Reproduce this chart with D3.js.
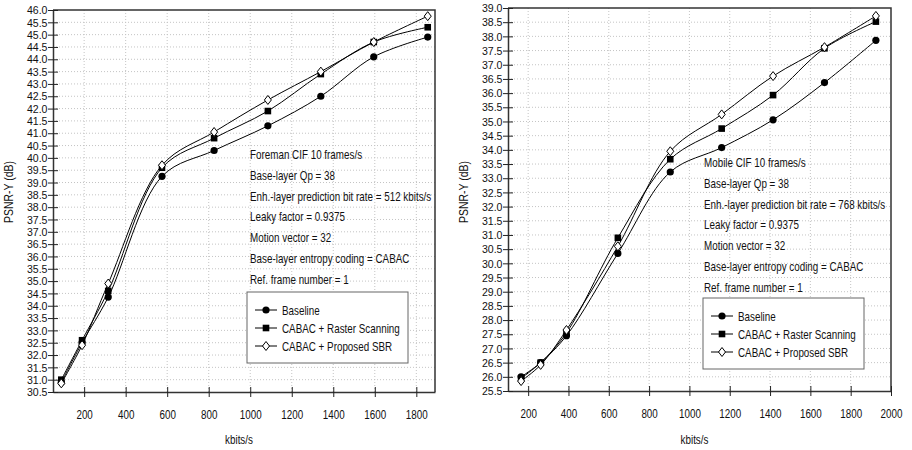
<!DOCTYPE html>
<html>
<head>
<meta charset="utf-8">
<script src="https://cdn.jsdelivr.net/npm/d3@7"></script>
<style>
  body { margin: 0; background: #fff; }
  text { font-family: "Liberation Sans", Arial, sans-serif; fill: #111; }
</style>
</head>
<body>
<div id="viz"></div>
<script>
// ---- data ----
const seriesNames = ["Baseline", "CABAC + Raster Scanning", "CABAC + Proposed SBR"]

// Foreman
const foremanRate = [90, 190, 316, 575, 826, 1085, 1340, 1595, 1855]
const foremanBaseline = [30.9, 32.5, 34.35, 39.25, 40.3, 41.3, 42.5, 44.1, 44.9]
const foremanRaster = [31.0, 32.6, 34.6, 39.6, 40.8, 41.9, 43.4, 44.7, 45.3]
const foremanSBR = [30.85, 32.4, 34.9, 39.7, 41.05, 42.35, 43.5, 44.7, 45.75]
const foremanNotes = ["Foreman CIF 10 frames/s", "Base-layer Qp = 38",
  "Enh.-layer prediction bit rate = 512 kbits/s", "Leaky factor = 0.9375",
  "Motion vector = 32", "Base-layer entropy coding = CABAC", "Ref. frame number = 1"]

// Mobile
const mobileRate = [165, 262, 390, 645, 905, 1160, 1415, 1670, 1925]
const mobileBaseline = [26.0, 26.5, 27.45, 30.35, 33.22, 34.08, 35.06, 36.37, 37.86]
const mobileRaster = [25.95, 26.5, 27.55, 30.9, 33.67, 34.75, 35.93, 37.58, 38.52]
const mobileSBR = [25.85, 26.42, 27.65, 30.6, 33.95, 35.25, 36.6, 37.62, 38.72]
const mobileNotes = ["Mobile CIF 10 frames/s", "Base-layer Qp = 38",
  "Enh.-layer prediction bit rate = 768 kbits/s", "Leaky factor = 0.9375",
  "Motion vector = 32", "Base-layer entropy coding = CABAC", "Ref. frame number = 1"]

const foremanXTicks = [200, 400, 600, 800, 1000, 1200, 1400, 1600, 1800]
const mobileXTicks = [200, 400, 600, 800, 1000, 1200, 1400, 1600, 1800, 2000]

const width = 912
const height = 450
const squeeze = 0.82

const svg = d3.select("#viz").append("svg")
    .attr("width", width)
    .attr("height", height)

function drawMarker(g, kind, x, y) {
    if (kind === 0) {
        g.append("circle").attr("cx", x).attr("cy", y).attr("r", 3.6).attr("fill", "#000")
    } else if (kind === 1) {
        g.append("rect").attr("x", x - 3.3).attr("y", y - 3.3)
            .attr("width", 6.6).attr("height", 6.6).attr("fill", "#000")
    } else {
        g.append("path")
            .attr("d", `M${x},${y - 4.5}L${x + 3.5},${y}L${x},${y + 4.5}L${x - 3.5},${y}Z`)
            .attr("fill", "#fff").attr("stroke", "#000").attr("stroke-width", 1)
    }
}

function squeezedText(g, str, x, y, anchor, size) {
    return g.append("text")
        .attr("transform", `translate(${x},${y}) scale(${squeeze},1)`)
        .attr("text-anchor", anchor || "start")
        .style("font-size", (size || 12) + "px")
        .text(str)
}

function drawPanel(p) {
    const x = d3.scaleLinear().domain(p.xDomain).range([p.left, p.right])
    const y = d3.scaleLinear().domain(p.yDomain).range([p.bottom, p.top])
    const yTicks = d3.range(p.yDomain[0], p.yDomain[1] + 0.01, 0.5)
    const g = svg.append("g")

    // grid
    g.append("g").selectAll("line").data(yTicks.slice(1, -1)).join("line")
        .attr("x1", p.left).attr("x2", p.right)
        .attr("y1", d => y(d)).attr("y2", d => y(d))
        .attr("stroke", "#c4c4c4").attr("stroke-dasharray", "1,2")
    g.append("g").selectAll("line").data(p.xTicks.filter(d => d < p.xDomain[1])).join("line")
        .attr("x1", d => x(d)).attr("x2", d => x(d))
        .attr("y1", p.top).attr("y2", p.bottom)
        .attr("stroke", "#c4c4c4").attr("stroke-dasharray", "1,2")

    // frame
    g.append("path")
        .attr("d", `M${p.left},${p.top}H${p.right}V${p.bottom}`)
        .attr("fill", "none").attr("stroke", "#333").attr("stroke-width", 1.5)

    // axes
    const xAxis = g.append("g")
        .attr("transform", `translate(0,${p.bottom})`)
        .call(d3.axisBottom(x).tickValues(p.xTicks).tickSize(5).tickSizeOuter(0).tickPadding(13)
            .tickFormat(d3.format("d")))
    const yAxis = g.append("g")
        .attr("transform", `translate(${p.left},0)`)
        .call(d3.axisLeft(y).tickValues(yTicks).tickSize(4).tickSizeOuter(0).tickPadding(2)
            .tickFormat(d3.format(".1f")))
    for (const ax of [xAxis, yAxis]) {
        ax.select(".domain").attr("stroke", "#333").attr("stroke-width", 1.5)
        ax.selectAll(".tick line").attr("stroke", "#222")
        ax.selectAll("text").attr("fill", "#111").style("font-family", "Liberation Sans, Arial, sans-serif")
    }
    xAxis.selectAll(".tick line").attr("y1", -5)
    xAxis.selectAll(".tick text").style("font-size", "12px")
        .attr("transform", `scale(${squeeze},1)`)
    yAxis.selectAll(".tick line").attr("x2", 5).attr("x1", -5)
    yAxis.selectAll(".tick text").style("font-size", "11.5px").attr("x", -6)
        .attr("transform", `scale(0.92,1)`)

    // axis titles
    squeezedText(g, "kbits/s", (p.left + p.right) / 2 - 5, 444, "middle")
    g.append("text")
        .attr("transform", `translate(${p.left - 40},${192}) rotate(-90) scale(${squeeze + 0.05},1)`)
        .attr("text-anchor", "middle")
        .style("font-size", "12px")
        .text("PSNR-Y (dB)")

    // curves
    const line = d3.line().x(d => x(d[0])).y(d => y(d[1])).curve(d3.curveCatmullRom.alpha(0.5))
    p.series.forEach((vals, i) => {
        const pts = p.rate.map((r, j) => [r, vals[j]])
        g.append("path").attr("d", line(pts))
            .attr("fill", "none").attr("stroke", "#000").attr("stroke-width", 1)
    })
    // markers drawn in order, SBR on top
    p.series.forEach((vals, i) => {
        p.rate.forEach((r, j) => drawMarker(g, i, x(r), y(vals[j])))
    })

    // notes
    p.notes.forEach((s, i) => {
        squeezedText(g, s, p.noteX, p.noteY + i * 20.8)
    })

    // legend
    const lg = g.append("g")
    lg.append("rect")
        .attr("x", p.legX).attr("y", p.legY).attr("width", 161).attr("height", 71)
        .attr("fill", "#fff").attr("stroke", "#666").attr("stroke-width", 1)
    seriesNames.forEach((name, i) => {
        const ly = p.legY + 18 + i * 18
        lg.append("line")
            .attr("x1", p.legX + 8).attr("x2", p.legX + 30)
            .attr("y1", ly).attr("y2", ly)
            .attr("stroke", "#000").attr("stroke-width", 1)
        drawMarker(lg, i, p.legX + 19, ly)
        squeezedText(lg, name, p.legX + 35, ly + 4.5)
    })
}

drawPanel({
    left: 53, right: 435, top: 10, bottom: 392,
    xDomain: [50, 1890], yDomain: [30.5, 46.0], xTicks: foremanXTicks,
    rate: foremanRate, series: [foremanBaseline, foremanRaster, foremanSBR],
    notes: foremanNotes, noteX: 250, noteY: 159,
    legX: 247, legY: 292
})

drawPanel({
    left: 508, right: 891, top: 8, bottom: 391,
    xDomain: [100, 2000], yDomain: [25.5, 39.0], xTicks: mobileXTicks,
    rate: mobileRate, series: [mobileBaseline, mobileRaster, mobileSBR],
    notes: mobileNotes, noteX: 704, noteY: 167,
    legX: 703, legY: 298
})
</script>
</body>
</html>
